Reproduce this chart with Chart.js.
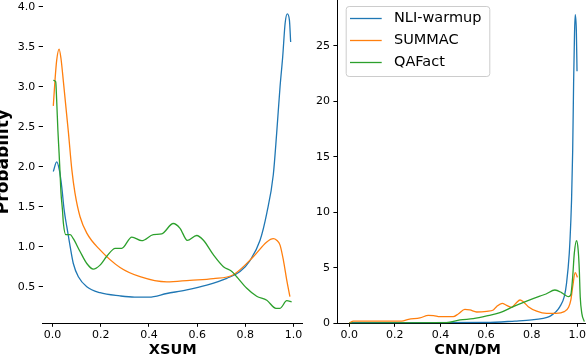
<!DOCTYPE html>
<html>
<head>
<meta charset="utf-8">
<script src="https://cdn.jsdelivr.net/npm/chart.js@4.4.1/dist/chart.umd.min.js"></script>
<style>
    html, body { margin: 0; padding: 0; background: #fff; }
    body { width: 586px; height: 356px; overflow: hidden; position: relative; }
    canvas { position: absolute; top: 0; }
    #xsumChart { left: 0; }
    #cnndmChart { left: 300px; }
</style>
</head>
<body>
<canvas id="xsumChart" width="304" height="356"></canvas>
<canvas id="cnndmChart" width="298" height="356"></canvas>
<script>
// series names + colours (matplotlib tab10)
const seriesNames = ["NLI-warmup", "SUMMAC", "QAFact"];
const seriesColors = ["#1f77b4", "#ff7f0e", "#2ca02c"];

// tick labels
const xTicks = [0.0, 0.2, 0.4, 0.6, 0.8, 1.0];
const xsumYTicks = [0.5, 1.0, 1.5, 2.0, 2.5, 3.0, 3.5, 4.0];
const cnndmYTicks = [0, 5, 10, 15, 20, 25];

// XSUM densities
const xsumNliX = [0.003, 0.017, 0.028, 0.038, 0.048, 0.059, 0.073, 0.086, 0.107, 0.142, 0.197, 0.28, 0.34, 0.40, 0.474, 0.557, 0.64, 0.723, 0.778, 0.82, 0.861, 0.889, 0.916, 0.93, 0.944, 0.955, 0.965, 0.974, 0.983, 0.988];
const xsumNliY = [1.94, 2.06, 1.96, 1.75, 1.46, 1.25, 1.0, 0.79, 0.625, 0.5, 0.425, 0.385, 0.37, 0.37, 0.415, 0.46, 0.52, 0.605, 0.69, 0.83, 1.08, 1.42, 1.9, 2.42, 3.0, 3.375, 3.79, 3.91, 3.83, 3.56];

const xsumSummacX = [0.003, 0.01, 0.017, 0.027, 0.035, 0.045, 0.066, 0.08, 0.093, 0.114, 0.142, 0.197, 0.28, 0.363, 0.474, 0.57, 0.667, 0.75, 0.833, 0.889, 0.916, 0.93, 0.944, 0.958, 0.972, 0.985];
const xsumSummacY = [2.76, 3.08, 3.33, 3.47, 3.35, 3.06, 2.42, 1.96, 1.67, 1.375, 1.17, 0.96, 0.74, 0.625, 0.56, 0.58, 0.6, 0.65, 0.875, 1.06, 1.1, 1.08, 1.02, 0.83, 0.58, 0.375];

const xsumQafactX = [0.003, 0.013, 0.017, 0.022, 0.027, 0.031, 0.035, 0.041, 0.045, 0.055, 0.073, 0.086, 0.114, 0.142, 0.169, 0.197, 0.225, 0.26, 0.287, 0.329, 0.37, 0.418, 0.453, 0.501, 0.529, 0.559, 0.598, 0.626, 0.667, 0.709, 0.744, 0.764, 0.806, 0.847, 0.889, 0.927, 0.944, 0.972, 0.992];
const xsumQafactY = [3.08, 3.06, 2.83, 2.46, 2.17, 1.92, 1.67, 1.46, 1.29, 1.15, 1.15, 1.1, 0.94, 0.79, 0.72, 0.77, 0.88, 0.98, 0.98, 1.12, 1.075, 1.15, 1.16, 1.29, 1.23, 1.08, 1.14, 1.08, 0.9, 0.75, 0.69, 0.625, 0.48, 0.38, 0.33, 0.23, 0.23, 0.325, 0.31];

// CNN/DM densities
const cnndmNliX = [0.0, 0.3, 0.6, 0.727, 0.8, 0.851, 0.877, 0.895, 0.907, 0.924, 0.943, 0.953, 0.965, 0.972, 0.975, 0.98, 0.984, 0.988, 0.991, 0.996, 0.999];
const cnndmNliY = [0.05, 0.05, 0.07, 0.2, 0.3, 0.45, 0.6, 0.85, 1.05, 1.5, 2.4, 3.6, 6.3, 9.3, 11.1, 15.6, 21.6, 26.1, 27.8, 26.4, 22.7];

const cnndmSummacX = [0.0, 0.018, 0.23, 0.26, 0.31, 0.347, 0.37, 0.398, 0.456, 0.478, 0.507, 0.529, 0.559, 0.603, 0.632, 0.646, 0.671, 0.69, 0.712, 0.731, 0.749, 0.763, 0.785, 0.822, 0.866, 0.907, 0.943, 0.962, 0.972, 0.98, 0.991, 1.001];
const cnndmSummacY = [0.0, 0.2, 0.2, 0.36, 0.48, 0.72, 0.7, 0.6, 0.6, 0.84, 1.26, 1.2, 1.02, 1.08, 1.2, 1.5, 1.8, 1.62, 1.44, 1.8, 2.1, 1.95, 1.5, 1.1, 0.9, 0.9, 1.05, 1.44, 2.1, 3.3, 4.56, 4.14];

const cnndmQafactX = [0.0, 0.427, 0.486, 0.544, 0.603, 0.661, 0.719, 0.778, 0.836, 0.863, 0.902, 0.931, 0.953, 0.962, 0.972, 0.98, 0.987, 0.997, 1.004, 1.009, 1.013, 1.02, 1.031];
const cnndmQafactY = [0.02, 0.05, 0.3, 0.42, 0.66, 0.96, 1.5, 2.0, 2.45, 2.64, 3.0, 2.76, 2.46, 2.4, 2.6, 4.2, 6.3, 7.44, 6.6, 4.8, 2.4, 0.9, 0.15];

Chart.defaults.font.family = "'DejaVu Sans', sans-serif";
Chart.defaults.color = "#000";

function toPoints(xs, ys) {
    return xs.map((x, i) => ({ x: x, y: ys[i] }));
}

function makeDatasets(seriesX, seriesY) {
    return seriesNames.map((name, i) => ({
        label: name,
        data: toPoints(seriesX[i], seriesY[i]),
        borderColor: seriesColors[i],
        borderWidth: 1.3,
        pointRadius: 0,
        fill: false,
        cubicInterpolationMode: 'monotone',
        order: seriesNames.length - i // green drawn on top, like matplotlib
    }));
}

// matplotlib-ish legend box sitting inside the plot
const boxLegend = {
    id: 'boxLegend',
    afterDraw(chart, args, opts) {
        if (!opts.show) return;
        const ctx = chart.ctx;
        const a = chart.chartArea;
        const bx = a.left + 8.3, by = a.top + 6, bw = 143.6, bh = 70;
        ctx.save();
        ctx.beginPath();
        if (ctx.roundRect) ctx.roundRect(bx + 0.5, by + 0.5, bw, bh, 3);
        else ctx.rect(bx + 0.5, by + 0.5, bw, bh);
        ctx.fillStyle = "rgba(255,255,255,0.8)";
        ctx.fill();
        ctx.strokeStyle = "#cccccc";
        ctx.lineWidth = 1;
        ctx.stroke();

        ctx.font = "14.5px 'DejaVu Sans'";
        ctx.textBaseline = "middle";
        ctx.fillStyle = "#000";
        chart.data.datasets.forEach((ds, i) => {
            const y = a.top + 18.5 + i * 22;
            ctx.beginPath();
            ctx.moveTo(a.left + 12.6, y);
            ctx.lineTo(a.left + 44.3, y);
            ctx.strokeStyle = ds.borderColor;
            ctx.lineWidth = 1.3;
            ctx.stroke();
            ctx.fillText(ds.label, a.left + 56.6, y);
        });
        ctx.restore();
    }
};

function makeChart(canvasId, cfg) {
    const ctx = document.getElementById(canvasId).getContext('2d');
    return new Chart(ctx, {
        type: 'line',
        data: { datasets: cfg.datasets },
        plugins: [boxLegend],
        options: {
            responsive: false,
            animation: false,
            events: [],
            layout: { padding: { left: 0, top: 0, bottom: 0, right: cfg.padRight } },
            plugins: {
                legend: { display: false },
                tooltip: { enabled: false },
                boxLegend: { show: cfg.legend }
            },
            scales: {
                x: {
                    type: 'linear',
                    min: cfg.xMin,
                    max: cfg.xMax,
                    afterBuildTicks: s => { s.ticks = xTicks.map(v => ({ value: v })); },
                    afterFit: s => { s.height = 32.7; s.paddingLeft = 0; s.paddingRight = 0; },
                    ticks: {
                        font: { size: 11 },
                        padding: 2,
                        maxRotation: 0,
                        callback: v => v.toFixed(1)
                    },
                    grid: { drawOnChartArea: false, drawTicks: true, tickLength: 3.5, color: '#000', tickColor: '#000' },
                    border: { display: true, color: '#000', width: 1 },
                    title: {
                        display: true,
                        text: cfg.xTitle,
                        font: { size: 14.5, weight: 'bold' },
                        padding: { top: 0, bottom: -3.3 }
                    }
                },
                y: {
                    type: 'linear',
                    min: cfg.yMin,
                    max: cfg.yMax,
                    afterBuildTicks: s => { s.ticks = cfg.yTicks.map(v => ({ value: v })); },
                    afterFit: s => { s.width = cfg.yWidth; s.paddingTop = 0; s.paddingBottom = 0; },
                    ticks: {
                        font: { size: 11 },
                        padding: 3.5,
                        callback: cfg.yFormat
                    },
                    grid: { drawOnChartArea: false, drawTicks: true, tickLength: 4, color: '#000', tickColor: '#000' },
                    border: { display: cfg.ySpine, color: '#000', width: 1 },
                    title: {
                        display: !!cfg.yTitle,
                        text: cfg.yTitle || '',
                        font: { size: 17, weight: 'bold' },
                        padding: { top: -7, bottom: 0 }
                    }
                }
            }
        }
    });
}

makeChart('xsumChart', {
    datasets: makeDatasets([xsumNliX, xsumSummacX, xsumQafactX], [xsumNliY, xsumSummacY, xsumQafactY]),
    xMin: -0.041, xMax: 1.038,
    yMin: 0.0425, yMax: 4.084,
    yTicks: xsumYTicks,
    yFormat: v => v.toFixed(1),
    yWidth: 42.7,
    ySpine: false,
    padRight: 1.3,
    xTitle: 'XSUM',
    yTitle: 'Probability',
    legend: false
});

makeChart('cnndmChart', {
    datasets: makeDatasets([cnndmNliX, cnndmSummacX, cnndmQafactX], [cnndmNliY, cnndmSummacY, cnndmQafactY]),
    xMin: -0.052, xMax: 1.091,
    yMin: 0, yMax: 29.13,
    yTicks: cnndmYTicks,
    yFormat: v => String(v),
    yWidth: 37.4,
    ySpine: true,
    padRight: 0,
    xTitle: 'CNN/DM',
    yTitle: null,
    legend: true
});
</script>
</body>
</html>
